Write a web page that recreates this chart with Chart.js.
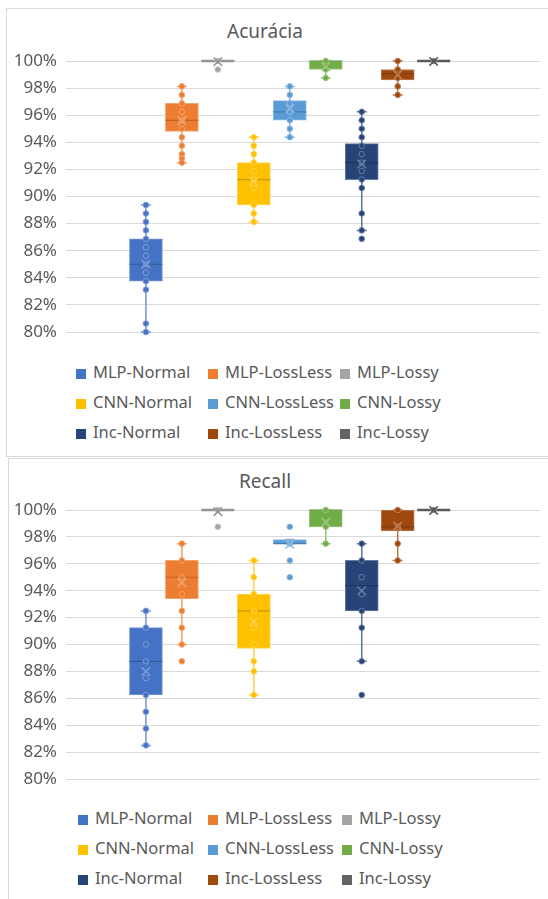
<!DOCTYPE html>
<html>
<head>
<meta charset="utf-8">
<script src="https://cdn.jsdelivr.net/npm/chart.js@4.4.0/dist/chart.umd.min.js"></script>
<style>
  body { margin: 0; overflow: hidden; background: #fff; font-family: "Noto Sans", sans-serif; color: #595959; }
  .frame { position: absolute; border: 1px solid #d9d9d9; width: 620px; box-sizing: border-box; }
  .title { position: absolute; left: 0; width: 530px; text-align: center; font-size: 19px; line-height: 24px; }
  canvas { position: absolute; left: 0; }
  .legend { position: absolute; left: 0; font-size: 16.5px; }
  .item { position: absolute; white-space: nowrap; line-height: 22px; }
  .item span { display: inline-block; width: 10px; height: 10px; margin-right: 7px; vertical-align: -1px; }
</style>
</head>
<body>
<div class="frame" style="left:6px; top:8px; height:449px;"></div>
<div class="frame" style="left:8px; top:458px; height:460px;"></div>
<div class="title" style="top:19px;">Acurácia</div>
<div class="title" style="top:469px;">Recall</div>
<canvas id="acc" width="548" height="305" style="top:40px;"></canvas>
<canvas id="rec" width="548" height="305" style="top:489px;"></canvas>
<div class="legend" id="accLegend" style="top:361px;"></div>
<div class="legend" id="recLegend" style="top:807px;"></div>
<script>
const seriesNames = ["MLP-Normal", "MLP-LossLess", "MLP-Lossy", "CNN-Normal", "CNN-LossLess", "CNN-Lossy", "Inc-Normal", "Inc-LossLess", "Inc-Lossy"];
const seriesColors = ["#4472C4", "#ED7D31", "#A5A5A5", "#FFC000", "#5B9BD5", "#70AD47", "#264478", "#9E480E", "#636363"];
const yTicks = [80, 82, 84, 86, 88, 90, 92, 94, 96, 98, 100];

// Acurácia
const accLow = [80.0, 92.5, 100, 88.125, 94.375, 98.75, 87.5, 97.5, 100];
const accQ1 = [83.75, 94.8, 100, 89.375, 95.625, 99.375, 91.25, 98.6, 100];
const accMedian = [85.0, 95.625, 100, 91.25, 96.25, 100, 92.5, 99.06, 100];
const accQ3 = [86.875, 96.875, 100, 92.5, 97.08, 100, 93.9, 99.375, 100];
const accHigh = [89.375, 98.125, 100, 94.375, 98.125, 100, 96.25, 100, 100];
const accMean = [85.0, 95.6, 99.94, 91.1, 96.5, 99.58, 92.4, 98.97, 99.97];
const accPoints = [
  [89.375, 88.75, 88.125, 87.5, 86.875, 86.25, 85.625, 85.0, 84.375, 83.75, 83.125, 80.625, 80.0],
  [98.125, 97.5, 96.875, 96.25, 95.625, 95.0, 94.375, 93.75, 93.125, 92.8, 92.5],
  [100, 99.375],
  [94.375, 93.75, 93.125, 92.5, 91.875, 91.25, 90.625, 89.375, 88.75, 88.125],
  [98.125, 97.5, 96.875, 96.25, 95.625, 95.0, 94.375],
  [100, 99.375, 98.75],
  [96.25, 95.625, 95.0, 94.375, 93.75, 93.125, 92.5, 91.875, 91.25, 90.625, 88.75, 87.5, 86.875],
  [100, 99.375, 98.75, 98.125, 97.5],
  [100]
];

// Recall
const recLow = [82.5, 90.0, 100, 86.25, 97.5, 97.5, 88.75, 96.25, 100];
const recQ1 = [86.25, 93.4, 100, 89.7, 97.5, 98.75, 92.5, 98.44, 100];
const recMedian = [88.75, 95.0, 100, 92.5, 97.5, 100, 94.375, 98.75, 100];
const recQ3 = [91.25, 96.25, 100, 93.75, 97.8, 100, 96.25, 100, 100];
const recHigh = [92.5, 97.5, 100, 96.25, 97.8, 100, 97.5, 100, 100];
const recMean = [88.0, 94.6, 99.88, 91.7, 97.45, 99.1, 94.0, 98.8, 99.97];
const recPoints = [
  [92.5, 91.25, 90.0, 88.75, 87.5, 86.25, 85.0, 83.75, 82.5],
  [97.5, 96.25, 95.0, 93.75, 92.5, 91.25, 90.0, 88.75],
  [100, 98.75],
  [96.25, 95.0, 93.75, 92.5, 91.25, 90.0, 88.75, 88.0, 86.25],
  [98.75, 97.5, 96.25, 95.0],
  [100, 98.75, 97.5],
  [97.5, 96.25, 95.0, 93.75, 92.5, 91.25, 88.75, 86.25],
  [100, 98.75, 97.5, 96.25],
  [100]
];

function mix(hex, target, t) {
  const n = parseInt(hex.slice(1), 16);
  const c = [(n >> 16) & 255, (n >> 8) & 255, n & 255].map((v) => Math.round(v + (target - v) * t));
  return "rgb(" + c.join(",") + ")";
}

// whiskers, caps and median line, drawn right after each box
const boxDecor = {
  id: "boxDecor",
  afterDatasetDraw(chart, args) {
    const ds = chart.data.datasets[args.index];
    if (!ds.stats) return;
    const { ctx } = chart;
    const x = chart.scales.x;
    const y = chart.scales.y;
    const s = ds.stats;
    const cx = x.getPixelForValue(s.x);
    const half = 16.5;
    ctx.save();
    ctx.strokeStyle = mix(s.color, 255, 0.25);
    ctx.lineWidth = 1.5;
    ctx.beginPath();
    ctx.moveTo(cx, y.getPixelForValue(s.high));
    ctx.lineTo(cx, y.getPixelForValue(s.q3));
    ctx.moveTo(cx, y.getPixelForValue(s.q1));
    ctx.lineTo(cx, y.getPixelForValue(s.low));
    ctx.moveTo(cx - 5, y.getPixelForValue(s.high));
    ctx.lineTo(cx + 5, y.getPixelForValue(s.high));
    ctx.moveTo(cx - 5, y.getPixelForValue(s.low));
    ctx.lineTo(cx + 5, y.getPixelForValue(s.low));
    ctx.stroke();
    const flat = s.q1 === s.q3;
    ctx.strokeStyle = flat ? mix(s.color, 0, 0.1) : mix(s.color, 0, 0.2);
    ctx.lineWidth = flat ? 2.5 : 1.2;
    ctx.beginPath();
    ctx.moveTo(cx - half, y.getPixelForValue(s.median));
    ctx.lineTo(cx + half, y.getPixelForValue(s.median));
    ctx.stroke();
    ctx.restore();
  }
};

function makeChart(id, legendId, low, q1, median, q3, high, mean, points, legendCols) {
  const datasets = [];
  seriesNames.forEach((name, i) => {
    datasets.push({
      type: "bar",
      label: name,
      data: [{ x: i, y: [q1[i], q3[i]] }],
      backgroundColor: seriesColors[i],
      borderColor: mix(seriesColors[i], 255, 0.3),
      borderWidth: 1,
      borderSkipped: false,
      barThickness: 33,
      grouped: false,
      order: 3,
      clip: false,
      stats: { x: i, low: low[i], q1: q1[i], median: median[i], q3: q3[i], high: high[i], color: seriesColors[i] }
    });
    datasets.push({
      type: "scatter",
      label: name + " points",
      data: points[i].map((v) => ({ x: i, y: v })),
      backgroundColor: seriesColors[i],
      borderColor: mix(seriesColors[i], 255, 0.3),
      borderWidth: 1,
      pointRadius: 2.8,
      order: 2,
      clip: false
    });
    datasets.push({
      type: "scatter",
      label: name + " mean",
      data: [{ x: i, y: mean[i] }],
      pointStyle: "crossRot",
      pointRadius: 6,
      borderColor: i === 8 || i === 2 ? mix(seriesColors[i], 0, 0.1) : mix(seriesColors[i], 255, 0.3),
      borderWidth: 1.5,
      order: 1,
      clip: false
    });
  });

  const ctx = document.getElementById(id).getContext("2d");
  const chart = new Chart(ctx, {
    type: "bar",
    data: { datasets: datasets },
    options: {
      responsive: false,
      animation: false,
      layout: { padding: { top: 21, bottom: id === "acc" ? 13 : 15, left: 0, right: 0 } },
      plugins: { legend: { display: false }, tooltip: { enabled: false } },
      scales: {
        x: { type: "linear", min: -2.222, max: 10.97, offset: false, display: false },
        y: {
          min: 80,
          max: 100,
          border: { display: false },
          grid: { color: "#d9d9d9", drawTicks: false },
          afterFit(scale) {
            scale.width = 66;
            scale.paddingTop = 0;
            scale.paddingBottom = 0;
          },
          afterBuildTicks(scale) {
            scale.ticks = yTicks.map((v) => ({ value: v }));
          },
          ticks: {
            padding: 9,
            color: "#595959",
            font: { family: "Noto Sans", size: 17 },
            callback: (v) => v + "%"
          }
        }
      }
    },
    plugins: [boxDecor]
  });

  // legend laid out in three aligned columns, as in the original
  const legend = document.getElementById(legendId);
  seriesNames.forEach((name, i) => {
    const el = document.createElement("div");
    el.className = "item";
    el.style.left = legendCols[i % 3] + "px";
    el.style.top = Math.floor(i / 3) * 30 + "px";
    el.innerHTML = '<span style="background:' + seriesColors[i] + '"></span>' + name;
    legend.appendChild(el);
  });
  return chart;
}

makeChart("acc", "accLegend", accLow, accQ1, accMedian, accQ3, accHigh, accMean, accPoints, [76, 208, 340]);
makeChart("rec", "recLegend", recLow, recQ1, recMedian, recQ3, recHigh, recMean, recPoints, [78, 208, 342]);
</script>
</body>
</html>
